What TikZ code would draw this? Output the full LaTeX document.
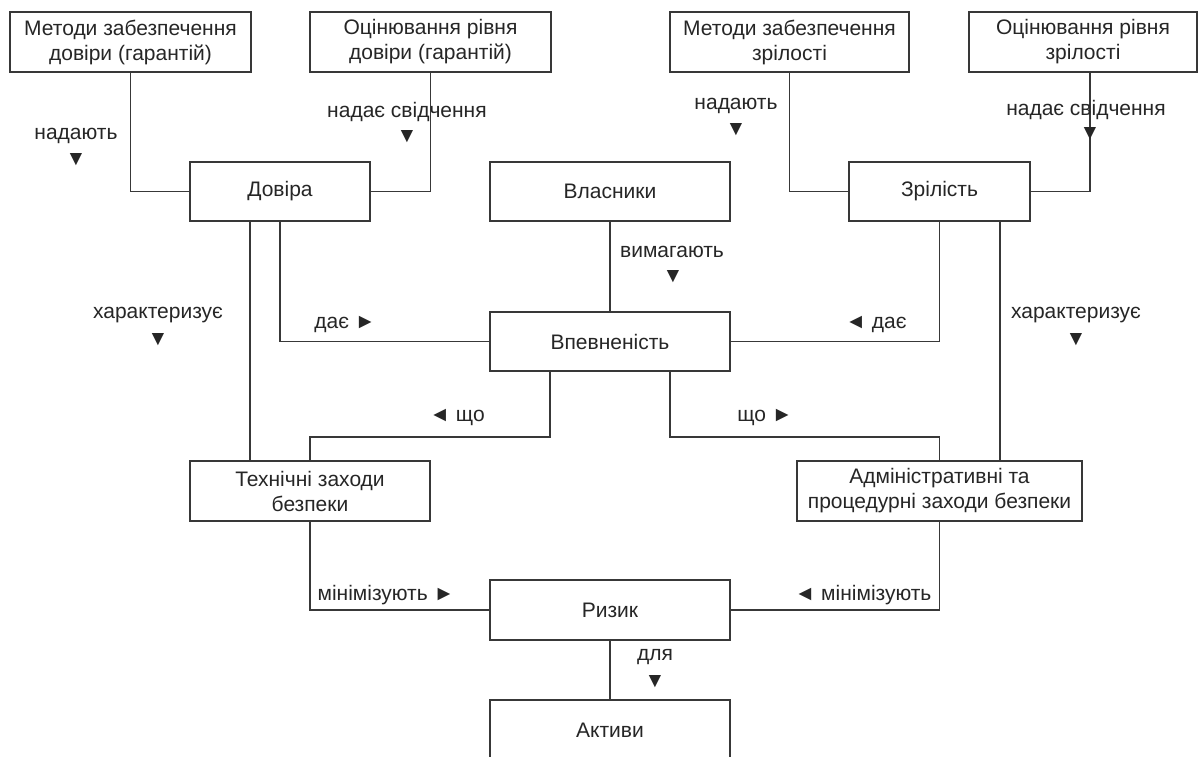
\documentclass[tikz,border=0pt]{standalone}
\usepackage{fontspec}
\setmainfont{Liberation Sans}
\begin{document}
\begin{tikzpicture}[x=1pt,y=-1pt,
  every node/.style={font=\fontsize{21}{25}\selectfont, text=black!85, inner sep=0pt},
  box/.style={draw=black!78, line width=1.2pt, rectangle, align=center, minimum height=60pt},
  conn/.style={draw=black!78, line width=1.2pt},
  lbl/.style={}]
\useasboundingbox (0,0) rectangle (1198,756);
\clip (0,0) rectangle (1198,756);
\fill[white] (0,0) rectangle (1198,756);
% boxes
\node[box, minimum width=241pt] (m1) at (130.5,42) {Методи забезпечення\\довіри (гарантій)};
\node[box, minimum width=241pt] (o1) at (430.5,42) {Оцінювання рівня\\довіри (гарантій)};
\node[box, minimum width=239pt] (m2) at (789.5,42) {Методи забезпечення\\зрілості};
\node[box, minimum width=228pt] (o2) at (1083,42) {Оцінювання рівня\\зрілості};
\node[box, minimum width=180pt, minimum height=59pt] (dov) at (280,191.5) {Довіра};
\node[box, minimum width=240pt, minimum height=59pt] (vl) at (610,191.5) {Власники};
\node[box, minimum width=181pt, minimum height=59pt] (zr) at (939.5,191.5) {Зрілість};
\node[box, minimum width=240pt, minimum height=59pt] (vp) at (610,341.5) {Впевненість};
\node[box, minimum width=240pt] (tech) at (310,491) {Технічні заходи\\безпеки};
\node[box, minimum width=285pt] (adm) at (939.5,491) {Адміністративні та\\процедурні заходи безпеки};
\node[box, minimum width=240pt] (risk) at (610,610) {Ризик};
\node[box, minimum width=240pt] (akt) at (610,730) {Активи};
% connectors
\draw[conn] (m1.south) |- (dov.west);
\draw[conn] (o1.south) |- (dov.east);
\draw[conn] (m2.south) |- (zr.west);
\draw[conn] (o2.south -| 1090,0) |- (zr.east);
\draw[conn] (vl) -- (vp);
\draw[conn] (dov.south) |- (vp.west);
\draw[conn] (zr.south) |- (vp.east);
\draw[conn] (dov.south -| 250,0) -- (tech.north -| 250,0);
\draw[conn] (zr.south -| 1000,0) -- (adm.north -| 1000,0);
\coordinate (c1) at (550,437);
\coordinate (c2) at (670,437);
\draw[conn] (vp.south -| c1) -- (c1) -| (tech.north);
\draw[conn] (vp.south -| c2) -- (c2) -| (adm.north);
\draw[conn] (tech.south) |- (risk.west);
\draw[conn] (adm.south) |- (risk.east);
\draw[conn] (risk) -- (akt);
% labels
\node[lbl] (l1) at (76,136) {надають};
\node[lbl] (a1) at (76,160) {▼};
\node[lbl] (l2) at (407,112) {надає свідчення};
\node[lbl] (a2) at (407,137) {▼};
\node[lbl] (l3) at (736,106) {надають};
\node[lbl] (a3) at (736,130) {▼};
\node[lbl] (l4) at (1086,110) {надає свідчення};
\node[lbl] (a4) at (1090,134) {▼};
\node[lbl] (l5) at (672,252) {вимагають};
\node[lbl] (a5) at (673,277) {▼};
\node[lbl] (l6) at (345,324) {дає ►};
\node[lbl] (l7) at (876,324) {◄ дає};
\node[lbl] (l8) at (158,315) {характеризує};
\node[lbl] (a8) at (158,340) {▼};
\node[lbl] (l9) at (1076,315) {характеризує};
\node[lbl] (a9) at (1076,340) {▼};
\node[lbl] (l10) at (457,417) {◄ що};
\node[lbl] (l11) at (765,417) {що ►};
\node[lbl] (l12) at (386,595) {мінімізують ►};
\node[lbl] (l13) at (863,595) {◄ мінімізують};
\node[lbl] (l14) at (655,657) {для};
\node[lbl] (a14) at (655,682) {▼};
\end{tikzpicture}
\end{document}
